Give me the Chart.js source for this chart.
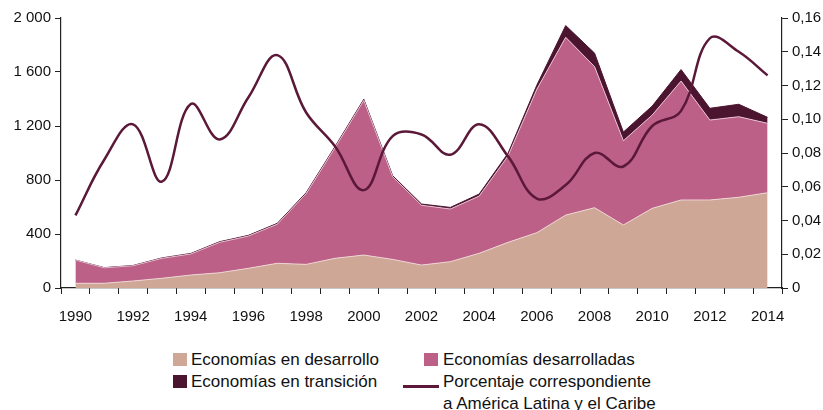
<!DOCTYPE html>
<html>
<head>
<meta charset="utf-8">
<script src="https://cdn.jsdelivr.net/npm/chart.js@4"></script>
<style>
  body { margin: 0; background: #fff; font-family: "Liberation Sans", Arial, sans-serif; }
  #wrap { position: relative; width: 823px; height: 410px; }
  .leg { position: absolute; font-size: 17px; color: #111; line-height: 22px; white-space: nowrap; }
  .sw { position: absolute; width: 14px; height: 13px; }
  .ln { position: absolute; width: 36px; height: 3px; }
</style>
</head>
<body>
<div id="wrap">
  <canvas id="chart" width="823" height="330"></canvas>
  <div class="sw" style="left:173px;top:353px;background:#cfa797"></div>
  <div class="leg" style="left:191px;top:349px">Economías en desarrollo</div>
  <div class="sw" style="left:424px;top:353px;background:#bc6088"></div>
  <div class="leg" style="left:443px;top:349px">Economías desarrolladas</div>
  <div class="sw" style="left:173px;top:375px;background:#4b1530"></div>
  <div class="leg" style="left:191px;top:371px">Economías en transición</div>
  <div class="ln" style="left:403px;top:385px;background:#5b1838"></div>
  <div class="leg" style="left:443px;top:371px">Porcentaje correspondiente<br>a América Latina y el Caribe</div>
</div>
<script>
const years = ['1990','1991','1992','1993','1994','1995','1996','1997','1998','1999','2000','2001','2002',
  '2003','2004','2005','2006','2007','2008','2009','2010','2011','2012','2013','2014'];
const developing = [35, 35, 52, 72, 96, 113, 146, 183, 175, 220, 244, 212, 170,
  195, 257, 338, 410, 540, 595, 467, 590, 652, 652, 672, 706];
const developed = [172, 115, 113, 148, 156, 225, 239, 290, 524, 819, 1146, 612, 443,
  390, 424, 640, 1063, 1317, 1045, 624, 691, 881, 592, 597, 514];
const transition = [0, 1, 2, 3, 4, 5, 5, 6, 7, 8, 8, 8, 9,
  12, 15, 20, 30, 87, 100, 64, 67, 85, 87, 92, 44];
const latamShare = [0.043, 0.076, 0.097, 0.063, 0.109, 0.088, 0.113, 0.138, 0.104, 0.084, 0.058, 0.090, 0.091,
  0.079, 0.097, 0.078, 0.053, 0.061, 0.080, 0.072, 0.096, 0.105, 0.148, 0.140, 0.126];
const leftTicks = [0, 400, 800, 1200, 1600, 2000];
const rightTicks = [0, 0.02, 0.04, 0.06, 0.08, 0.10, 0.12, 0.14, 0.16];

const font = { family: '"Liberation Sans", Arial, sans-serif', size: 15 };
const fmtThousands = v => v >= 1000 ? String(v).replace(/\B(?=(\d{3})+(?!\d))/g, ' ') : String(v);

new Chart(document.getElementById('chart'), {
  type: 'line',
  data: {
    labels: years,
    datasets: [
      { label: 'Economías en desarrollo', data: developing, yAxisID: 'y',
        backgroundColor: '#cfa797', borderColor: 'rgba(240,215,215,0.9)', borderWidth: 1,
        fill: 'origin', pointRadius: 0, tension: 0 },
      { label: 'Economías desarrolladas', data: developed, yAxisID: 'y',
        backgroundColor: '#bc6088', borderColor: 'rgba(235,200,215,0.9)', borderWidth: 1,
        fill: '-1', pointRadius: 0, tension: 0 },
      { label: 'Economías en transición', data: transition, yAxisID: 'y',
        backgroundColor: '#4b1530', borderColor: '#4b1530', borderWidth: 1,
        fill: '-1', pointRadius: 0, tension: 0 },
      { label: 'Porcentaje correspondiente a América Latina y el Caribe', data: latamShare, yAxisID: 'y1',
        borderColor: '#5b1838', borderWidth: 2.5, fill: false, pointRadius: 0,
        tension: 0.4, order: -1 }
    ]
  },
  options: {
    responsive: false,
    animation: false,
    layout: { padding: { top: 18, bottom: 0, left: 0, right: 0 } },
    plugins: {
      legend: { display: false },
      tooltip: { enabled: false }
    },
    scales: {
      x: {
        offset: true,
        grid: { offset: true, drawOnChartArea: false, tickLength: 6, color: '#222' },
        border: { color: '#222', width: 1.2 },
        ticks: { autoSkip: false, maxRotation: 0, color: '#111', font: font, padding: 14,
          callback: (v, i) => i % 2 === 0 ? years[i] : '' },
        afterFit: s => { s.height = 42; }
      },
      y: {
        stacked: true,
        min: 0, max: 2000,
        afterBuildTicks: s => { s.ticks = leftTicks.map(v => ({ value: v })); },
        grid: { drawOnChartArea: false, tickLength: 6, color: '#222' },
        border: { color: '#222', width: 1.2 },
        ticks: { color: '#111', font: font, padding: 4, callback: v => fmtThousands(v) },
        afterFit: s => { s.width = 61; }
      },
      y1: {
        position: 'right',
        min: 0, max: 0.16,
        afterBuildTicks: s => { s.ticks = rightTicks.map(v => ({ value: v })); },
        grid: { drawOnChartArea: false, tickLength: 6, color: '#222' },
        border: { color: '#222', width: 1.2 },
        ticks: { color: '#111', font: font, padding: 4,
          callback: v => v === 0 ? '0' : v.toFixed(2).replace('.', ',') },
        afterFit: s => { s.width = 41; }
      }
    }
  }
});
</script>
</body>
</html>
